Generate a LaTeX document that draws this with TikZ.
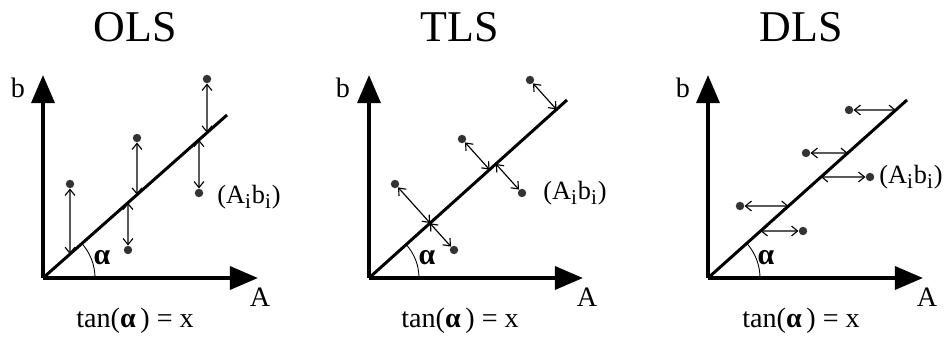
\documentclass[tikz,border=0pt]{standalone}
\usepackage{fontspec}
\setmainfont{Liberation Serif}
\usetikzlibrary{arrows.meta,calc}
\tikzset{
  axis/.style={line width=2.3pt,-{Triangle[length=16pt,width=13pt]}},
  fitline/.style={line width=1.7pt},
  dot/.style={circle,fill=black!80,draw=none,inner sep=0pt,minimum size=4.8pt},
  dbl/.style={line width=0.65pt,{Straight Barb[length=3.4pt,width=5.6pt]}-{Straight Barb[length=3.4pt,width=5.6pt]}},
  lbl/.style={font=\fontsize{16}{18}\selectfont,inner sep=0pt},
  plbl/.style={font=\fontsize{15}{17}\selectfont,inner sep=0pt,anchor=west},
  ttl/.style={font=\fontsize{25}{28}\selectfont,inner sep=0pt},
  alab/.style={font=\fontsize{17}{19}\selectfont\bfseries,inner sep=0pt}
}
\newcommand{\sbi}{\textsubscript{\fontsize{12}{12}\selectfont i}}
\begin{document}
\begin{tikzpicture}[x=0.02cm,y=-0.02cm]
\useasboundingbox (0,0) rectangle (950,344);
% ---------- OLS ----------
\node[ttl] (t1) at (135,27) {OLS};
\coordinate (O1) at (43,278);
\coordinate (E1) at (227,115);
\draw[axis] (O1) -- (43,75) coordinate (Y1);
\draw[axis] (O1) -- (258,278) coordinate (X1);
\draw[fitline] (O1) -- (E1);
\draw[line width=0.5pt] ($(O1)+(52,0)$) arc[start angle=0,end angle=-41.5,radius=52];
\node[alab] (al1) at (102,258) {α};
\node[lbl] (b1) at (18,88) {b};
\node[lbl] (a1) at (260,297) {A};
\node[lbl] (tn1) at (135,321) {tan(\textbf{α}\,) = x};
\node[plbl] (ab1) at (217,197) {(A\sbi b\sbi)};
\foreach \n/\px/\py in {1/70/184, 2/137/138, 3/128/250, 4/207/79, 5/199/193}{
  \node[dot] (op\n) at (\px,\py) {};
  \coordinate (ov\n) at (\px,\py+10);
  \coordinate (of\n) at (intersection of O1--E1 and op\n--ov\n);
  \draw[dbl] (op\n) -- (of\n);
}
% ---------- TLS ----------
\node[ttl] (t2) at (460,27) {TLS};
\coordinate (O2) at (369,278);
\coordinate (E2) at (567,100);
\draw[axis] (O2) -- (369,75) coordinate (Y2);
\draw[axis] (O2) -- (583,278) coordinate (X2);
\draw[fitline] (O2) -- (E2);
\draw[line width=0.5pt] ($(O2)+(50,0)$) arc[start angle=0,end angle=-42,radius=50];
\node[alab] (al2) at (427,258) {α};
\node[lbl] (b2) at (343,88) {b};
\node[lbl] (a2) at (587,297) {A};
\node[lbl] (tn2) at (460,321) {tan(\textbf{α}\,) = x};
\node[plbl] (ab2) at (543,193) {(A\sbi b\sbi)};
\foreach \n/\px/\py in {1/530/80, 2/462/139, 3/522/193, 4/395/184, 5/454/250}{
  \node[dot] (tp\n) at (\px,\py) {};
  \coordinate (tf\n) at ($(O2)!(tp\n)!(E2)$);
  \draw[dbl] (tp\n) -- (tf\n);
}
% ---------- DLS ----------
\node[ttl] (t3) at (801,27) {DLS};
\coordinate (O3) at (708,278);
\coordinate (E3) at (907,100);
\draw[axis] (O3) -- (708,75) coordinate (Y3);
\draw[axis] (O3) -- (923,278) coordinate (X3);
\draw[fitline] (O3) -- (E3);
\draw[line width=0.5pt] ($(O3)+(52,0)$) arc[start angle=0,end angle=-41.8,radius=52];
\node[alab] (al3) at (766,258) {α};
\node[lbl] (b3) at (683,88) {b};
\node[lbl] (a3) at (927,297) {A};
\node[lbl] (tn3) at (801,321) {tan(\textbf{α}\,) = x};
\node[plbl] (ab3) at (879,177) {(A\sbi b\sbi)};
\foreach \n/\px/\py in {1/849/110, 2/806/153, 3/870/177, 4/740/206, 5/803/231}{
  \node[dot] (dp\n) at (\px,\py) {};
  \coordinate (dh\n) at (\px+10,\py);
  \coordinate (df\n) at (intersection of O3--E3 and dp\n--dh\n);
  \draw[dbl] (dp\n) -- (df\n);
}
\end{tikzpicture}
\end{document}
